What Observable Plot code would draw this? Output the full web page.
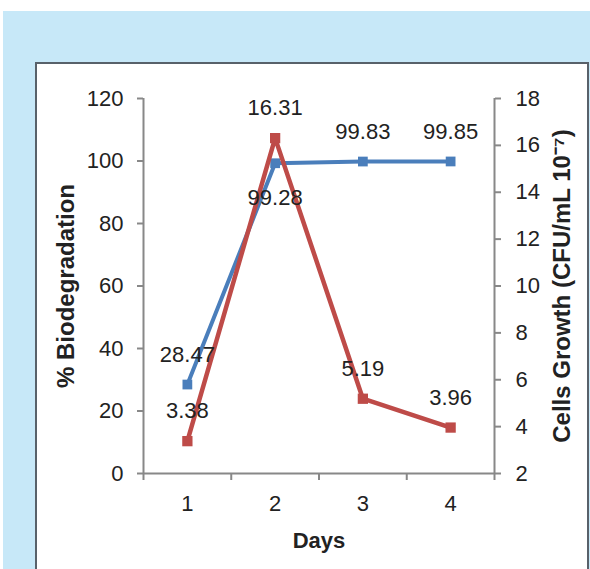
<!DOCTYPE html>
<html><head><meta charset="utf-8">
<script src="https://cdn.jsdelivr.net/npm/d3@7"></script>
<script src="https://cdn.jsdelivr.net/npm/@observablehq/plot@0.6"></script>
<style>
body{margin:0;background:#fff;}
#wrap{position:relative;width:590px;height:569px;overflow:hidden;}
#bg{position:absolute;left:3px;top:11px;right:0;bottom:0;background:#c7e8f8;}
#panel{position:absolute;left:35px;top:62px;width:550px;height:600px;background:#fff;border:2px solid #58616a;}
#chart{position:absolute;left:0;top:0;}
</style></head>
<body><div id="wrap"><div id="bg"></div><div id="panel"></div><div id="chart"></div></div>
<script>
const days = [1, 2, 3, 4];
const biodegradation = [28.47, 99.28, 99.83, 99.85];
const cellsGrowth = [3.38, 16.31, 5.19, 3.96];
const leftTicks = [0, 20, 40, 60, 80, 100, 120];
const rightTicks = [2, 4, 6, 8, 10, 12, 14, 16, 18];
const xTitle = "Days";
const leftTitle = "% Biodegradation";
const rightTitle = "Cells Growth (CFU/mL 10⁻⁷)";

const blue = "#4a7ebb", red = "#be4b48", axisGray = "#888888", textColor = "#222222";
const rMin = 2, rMax = 18, lMax = 120;
const toLeft = c => (c - rMin) * lMax / (rMax - rMin);
const toRight = v => v * (rMax - rMin) / lMax + rMin;

const bioData = days.map((d, i) => ({day: d, value: biodegradation[i], y: biodegradation[i]}));
const cellData = days.map((d, i) => ({day: d, value: cellsGrowth[i], y: toLeft(cellsGrowth[i])}));
const boundaries = [0.5, ...days.map(d => d + 0.5)];

const chart = Plot.plot({
  width: 590,
  height: 569,
  marginLeft: 143,
  marginRight: 96,
  marginTop: 98,
  marginBottom: 96,
  style: {fontFamily: "'Liberation Sans', Arial, sans-serif", fontSize: "22px", color: textColor, background: "transparent", overflow: "visible"},
  x: {domain: [0.5, 4.5]},
  y: {domain: [0, lMax]},
  marks: [
    Plot.ruleY([0], {stroke: axisGray, strokeWidth: 2}),
    Plot.ruleX([0.5], {stroke: axisGray, strokeWidth: 2}),
    Plot.ruleX([4.5], {stroke: axisGray, strokeWidth: 2}),
    Plot.axisY(leftTicks, {anchor: "left", tickSize: 6, tickPadding: 14, stroke: axisGray, strokeWidth: 2, fill: textColor, label: null}),
    Plot.axisY(rightTicks.map(toLeft), {anchor: "right", tickSize: 6, tickPadding: 15, stroke: axisGray, strokeWidth: 2, fill: textColor, label: null, tickFormat: v => String(Math.round(toRight(v)))}),
    Plot.axisX(boundaries, {anchor: "bottom", tickSize: 7, stroke: axisGray, strokeWidth: 2, tickFormat: () => "", label: null}),
    Plot.axisX(days, {anchor: "bottom", tickSize: 0, tickPadding: 22, fill: textColor, label: null}),
    Plot.line(bioData, {x: "day", y: "y", stroke: blue, strokeWidth: 4}),
    Plot.dot(bioData, {x: "day", y: "y", symbol: "square", r: 5.5, fill: blue}),
    Plot.line(cellData, {x: "day", y: "y", stroke: red, strokeWidth: 4.5}),
    Plot.dot(cellData, {x: "day", y: "y", symbol: "square", r: 5.8, fill: red}),
    Plot.text(bioData, {filter: (d, i) => i !== 1, x: "day", y: "y", text: d => d.value.toFixed(2), dy: -30, fill: textColor}),
    Plot.text(bioData, {filter: (d, i) => i === 1, x: "day", y: "y", text: d => d.value.toFixed(2), dy: 35, fill: textColor}),
    Plot.text(cellData, {x: "day", y: "y", text: d => d.value.toFixed(2), dy: -30, fill: textColor}),
    Plot.text([xTitle], {frameAnchor: "bottom", dy: 67, textAnchor: "middle", lineAnchor: "middle", fontWeight: "bold", fill: textColor}),
    Plot.text([leftTitle], {frameAnchor: "left", dx: -77, rotate: -90, textAnchor: "middle", lineAnchor: "middle", fontWeight: "bold", fontSize: 24, fill: textColor}),
    Plot.text([rightTitle], {frameAnchor: "right", dx: 68, rotate: -90, textAnchor: "middle", lineAnchor: "middle", fontWeight: "bold", fontSize: 24, fill: textColor})
  ]
});
document.getElementById("chart").appendChild(chart);
</script>
</body></html>
